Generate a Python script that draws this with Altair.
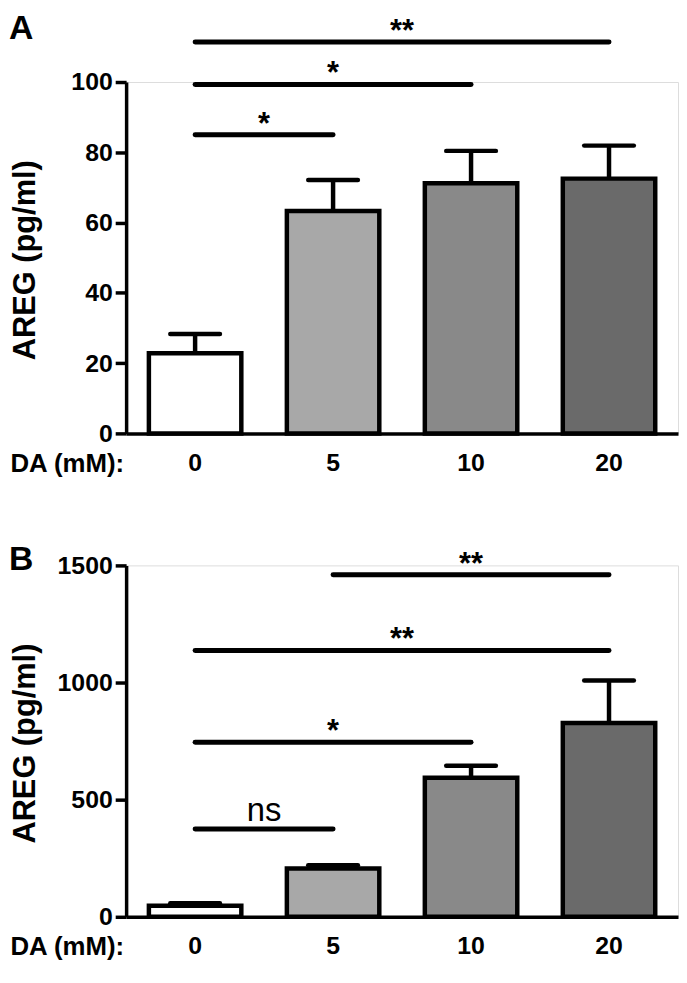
import altair as alt
import pandas as pd

# ---------------- data ----------------
cats = ["0", "5", "10", "20"]
fills = ["#ffffff", "#a8a8a8", "#898989", "#6a6a6a"]

a_mean = [22.8, 63.3, 71.2, 72.5]
a_err = [5.5, 8.8, 9.2, 9.4]
a_from = [0, 0, 0]
a_to = [1, 2, 3]
a_level = [85.0, 99.3, 111.4]
a_label = ["*", "*", "**"]

b_mean = [47, 206, 594, 827]
b_err = [11, 14, 51, 182]
b_from = [0, 0, 0, 1]
b_to = [1, 2, 3, 3]
b_level = [375, 745, 1137, 1460]
b_label = ["ns", "*", "**", "**"]

W = 556
H = 354
FONT = "Liberation Sans, Arial, sans-serif"


def panel(letter, means, errs, fr, to, levels, labels, ymax, yticks, tag_y):
    bars = pd.DataFrame({
        "cat": cats,
        "idx": list(range(len(cats))),
        "mean": means,
        "top": [m + e for m, e in zip(means, errs)],
    })
    sig = pd.DataFrame({
        "a": fr, "b": to, "level": levels, "label": labels,
    })
    sig["mid"] = (sig["a"] + sig["b"]) / 2

    yscale = alt.Scale(domain=[0, ymax], nice=False, zero=True)
    pos = alt.Scale(domain=[-0.5, len(cats) - 0.5], nice=False, zero=False)
    yaxis = alt.Axis(
        values=yticks, format="d", title="AREG (pg/ml)", grid=False,
        labelFont=FONT, labelFontSize=25, labelFontWeight="bold",
        labelColor="black", labelPadding=3,
        tickSize=11, tickWidth=3.5, tickColor="black",
        domainColor="black", domainWidth=3.5,
        titleFont=FONT, titleFontSize=31, titleFontWeight="bold",
        titleColor="black", titleX=-92, titleY=H / 2 + 2,
        titleAngle=-90, titleAlign="center",
        titleBaseline="alphabetic",
    )

    bar = alt.Chart(bars).mark_bar(
        stroke="black", strokeWidth=4.5, strokeJoin="miter"
    ).encode(
        x=alt.X(
            "cat:N", sort=cats,
            scale=alt.Scale(paddingInner=0.33, paddingOuter=0.165),
            axis=alt.Axis(
                title="DA (mM):", labelAngle=0, ticks=False, tickSize=0,
                grid=False,
                labelFont=FONT, labelFontSize=25, labelFontWeight="bold",
                labelColor="black", labelBaseline="alphabetic", labelPadding=37,
                domainColor="black", domainWidth=3.5,
                titleFont=FONT, titleFontSize=26, titleFontWeight="bold",
                titleColor="black", titleX=-117, titleY=38,
                titleAlign="left", titleBaseline="alphabetic",
                titleAnchor="start",
            ),
        ),
        y=alt.Y("mean:Q", scale=yscale, axis=yaxis),
        fill=alt.Color("cat:N", scale=alt.Scale(domain=cats, range=fills),
                       legend=None),
    )

    err_line = alt.Chart(bars).mark_rule(
        color="black", strokeWidth=4.5
    ).encode(
        x=alt.X("idx:Q", scale=pos, axis=None),
        y=alt.Y("mean:Q", scale=yscale, axis=yaxis),
        y2="top:Q",
    )
    err_cap = alt.Chart(bars).transform_calculate(
        c1="datum.idx - 0.18", c2="datum.idx + 0.18"
    ).mark_rule(color="black", strokeWidth=4.5, strokeCap="round").encode(
        x=alt.X("c1:Q", scale=pos, axis=None),
        x2="c2:Q",
        y=alt.Y("top:Q", scale=yscale, axis=yaxis),
    )
    sig_line = alt.Chart(sig).mark_rule(
        color="black", strokeWidth=5, strokeCap="round"
    ).encode(
        x=alt.X("a:Q", scale=pos, axis=None),
        x2="b:Q",
        y=alt.Y("level:Q", scale=yscale, axis=yaxis),
    )
    star = alt.Chart(sig).transform_filter("datum.label != 'ns'").mark_text(
        font=FONT, fontSize=31, fontWeight="bold", color="black",
        baseline="alphabetic", dy=-1,
    ).encode(
        x=alt.X("mid:Q", scale=pos, axis=None),
        y=alt.Y("level:Q", scale=yscale, axis=yaxis),
        text="label:N",
    )
    ns = alt.Chart(sig).transform_filter("datum.label == 'ns'").mark_text(
        font=FONT, fontSize=33, fontWeight="normal", color="black",
        baseline="alphabetic", dy=-8,
    ).encode(
        x=alt.X("mid:Q", scale=pos, axis=None),
        y=alt.Y("level:Q", scale=yscale, axis=yaxis),
        text="label:N",
    )
    tag = alt.Chart(pd.DataFrame({"t": [letter]})).mark_text(
        font=FONT, fontSize=34, fontWeight="bold", color="black",
        align="left", baseline="top",
    ).encode(
        x=alt.value(-118),
        y=alt.value(tag_y),
        text="t:N",
    )
    return alt.layer(err_line, err_cap, bar, sig_line, star, ns, tag).resolve_scale(
        x="independent"
    ).properties(width=W, height=H)


pA = panel("A", a_mean, a_err, a_from, a_to, a_level, a_label, 100,
           [0, 20, 40, 60, 80, 100], -70)
pB = panel("B", b_mean, b_err, b_from, b_to, b_level, b_label, 1500,
           [0, 500, 1000, 1500], -22)

chart = alt.vconcat(pA, pB, spacing=66).properties(
    padding=0
).configure_view(stroke="transparent", strokeWidth=0).configure(
    background="white"
)

chart.save("out.html", embed_options={"renderer": "svg", "actions": False})
